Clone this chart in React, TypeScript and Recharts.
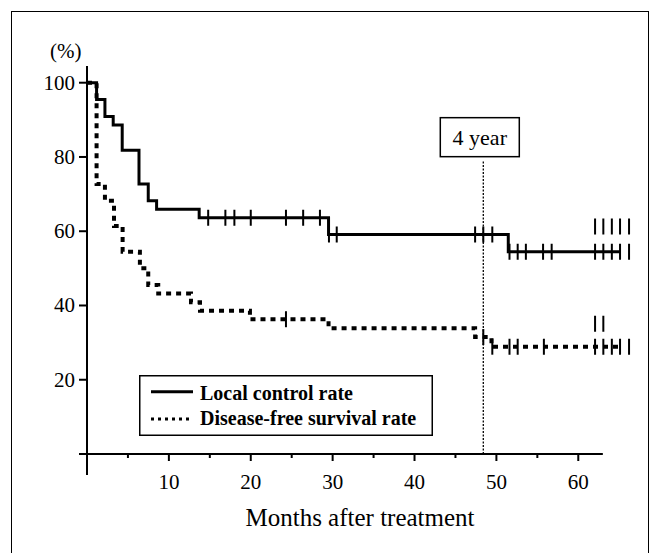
import React from 'react';
import {
  ComposedChart,
  Line,
  Scatter,
  XAxis,
  YAxis,
  ReferenceLine,
  ReferenceDot,
  Legend,
} from 'recharts';

const FONT = '"Liberation Serif", "Times New Roman", Times, serif';

// Kaplan-Meier step points (months, %)
const localSteps = [
  { t: 0, v: 100 },
  { t: 1.17, v: 95.45 },
  { t: 2.19, v: 90.9 },
  { t: 3.2, v: 88.6 },
  { t: 4.3, v: 81.8 },
  { t: 6.35, v: 72.7 },
  { t: 7.48, v: 68.2 },
  { t: 8.5, v: 65.9 },
  { t: 13.7, v: 63.6 },
  { t: 29.5, v: 59.1 },
  { t: 51.45, v: 54.5 },
  { t: 65.1, v: 54.5 },
];

const dfsSteps = [
  { t: 0, v: 100 },
  { t: 1.17, v: 72.7 },
  { t: 2.19, v: 68.2 },
  { t: 3.3, v: 61.4 },
  { t: 4.35, v: 54.5 },
  { t: 6.46, v: 50.0 },
  { t: 7.48, v: 45.5 },
  { t: 8.7, v: 43.2 },
  { t: 12.7, v: 40.9 },
  { t: 13.8, v: 38.6 },
  { t: 19.9, v: 36.3 },
  { t: 29.5, v: 33.9 },
  { t: 47.4, v: 31.5 },
  { t: 49.4, v: 28.9 },
  { t: 65.1, v: 28.9 },
];

// censoring marks
const localCensor = [
  { t: 14.8, v: 63.6 },
  { t: 16.9, v: 63.6 },
  { t: 18.0, v: 63.6 },
  { t: 20.0, v: 63.6 },
  { t: 24.3, v: 63.6 },
  { t: 26.4, v: 63.6 },
  { t: 28.45, v: 63.6 },
  { t: 29.55, v: 59.1 },
  { t: 30.5, v: 59.1 },
  { t: 47.4, v: 59.1 },
  { t: 48.4, v: 59.1 },
  { t: 49.5, v: 59.1 },
  { t: 51.6, v: 54.5 },
  { t: 52.6, v: 54.5 },
  { t: 53.6, v: 54.5 },
  { t: 55.7, v: 54.5 },
  { t: 56.75, v: 54.5 },
  { t: 62.05, v: 54.5 },
  { t: 63.06, v: 54.5 },
  { t: 64.1, v: 54.5 },
  { t: 65.1, v: 54.5 },
  { t: 66.2, v: 54.5 },
];
const localCensorStacked = [
  { t: 62.05, v: 61.3 },
  { t: 63.06, v: 61.3 },
  { t: 64.1, v: 61.3 },
  { t: 65.1, v: 61.3 },
  { t: 66.2, v: 61.3 },
];
const dfsCensor = [
  { t: 24.3, v: 36.3 },
  { t: 48.4, v: 31.5 },
  { t: 49.5, v: 28.9 },
  { t: 51.6, v: 28.9 },
  { t: 52.6, v: 28.9 },
  { t: 55.8, v: 28.9 },
  { t: 62.05, v: 28.9 },
  { t: 63.06, v: 28.9 },
  { t: 64.1, v: 28.9 },
  { t: 65.1, v: 28.9 },
  { t: 66.2, v: 28.9 },
];
const dfsCensorStacked = [
  { t: 62.05, v: 35.1 },
  { t: 63.06, v: 35.1 },
];

const xTicks = [5, 10, 15, 20, 25, 30, 35, 40, 45, 50, 55, 60];
const yTicks = [0, 20, 40, 60, 80, 100];
const xAxisEnd = 63;
const fourYear = 48.4;
const fourYearLabel = '4 year';
const legendLabels = ['Local control rate', 'Disease-free survival rate'];
const xTitle = 'Months after treatment';
const yTitle = '(%)';

const textStyle = { fontFamily: FONT };

const XTick = (props: any) => {
  const { x, y, payload } = props;
  const major = payload.value % 10 === 0;
  return (
    <g>
      <line x1={x} x2={x} y1={y} y2={y + (major ? 7 : 4)} stroke="#000" strokeWidth={2} />
      {major && (
        <text x={x} y={y + 35} textAnchor="middle" fontFamily={FONT} style={textStyle} fontSize={21} fill="#000">
          {payload.value}
        </text>
      )}
    </g>
  );
};

const YTick = (props: any) => {
  const { x, y, payload } = props;
  return (
    <g>
      <line x1={x - 8} x2={x} y1={y} y2={y} stroke="#000" strokeWidth={2} />
      {payload.value !== 0 && (
        <text x={x - 12} y={y + 7} textAnchor="end" fontFamily={FONT} style={textStyle} fontSize={21} fill="#000">
          {payload.value}
        </text>
      )}
    </g>
  );
};

const CensorMark = (p: any) => (
  <line x1={p.cx} x2={p.cx} y1={p.cy - 8} y2={p.cy + 8} stroke="#000" strokeWidth={2} />
);

const FourYearBox = (p: any) => (
  <g>
    <rect x={p.cx - 43} y={p.cy - 43} width={79} height={39} fill="#fff" stroke="#000" strokeWidth={1.5} />
    <text x={p.cx - 3.5} y={p.cy - 16} textAnchor="middle" fontFamily={FONT} style={textStyle} fontSize={22} fill="#000">
      {fourYearLabel}
    </text>
  </g>
);

const LegendBox = () => (
  <svg width={294} height={62} style={{ display: 'block' }}>
    <rect x={0.75} y={0.75} width={292.5} height={59.5} fill="#fff" stroke="#000" strokeWidth={1.5} />
    <line x1={12} x2={54} y1={16.7} y2={16.7} stroke="#000" strokeWidth={3} />
    <line x1={12} x2={54} y1={44} y2={44} stroke="#000" strokeWidth={3} strokeDasharray="3 4" />
    <text x={61} y={25} fontFamily={FONT} style={textStyle} fontWeight="bold" fontSize={20} fill="#000">
      {legendLabels[0]}
    </text>
    <text x={61} y={50} fontFamily={FONT} style={textStyle} fontWeight="bold" fontSize={20} fill="#000">
      {legendLabels[1]}
    </text>
  </svg>
);

export default function App() {
  return (
    <div style={{ position: 'absolute', left: 0, top: 0, width: 659, height: 553, background: '#fff', overflow: 'hidden' }}>
      <div
        style={{
          position: 'absolute',
          left: 11,
          top: 11,
          width: 638,
          height: 600,
          border: '1.5px solid #000',
          boxSizing: 'border-box',
        }}
      />
      <ComposedChart
        width={659}
        height={553}
        margin={{ top: 66, right: 27.5, bottom: 98, left: 86 }}
        style={{ position: 'absolute', left: 0, top: 0 }}
      >
        <XAxis
          type="number"
          dataKey="t"
          domain={[0, 66.5]}
          ticks={xTicks}
          interval={0}
          axisLine={false}
          tickLine={false}
          tickSize={0}
          tickMargin={0}
          height={1}
          tick={<XTick />}
          allowDataOverflow
          label={(props: any) => {
            const vb = props.viewBox;
            return (
              <text x={vb.x + 273} y={vb.y + 72} textAnchor="middle" fontFamily={FONT} style={textStyle} fontSize={25} fill="#000">
                {xTitle}
              </text>
            );
          }}
        />
        <YAxis
          type="number"
          dataKey="v"
          domain={[0, 104.5]}
          ticks={yTicks}
          interval={0}
          axisLine={false}
          tickLine={false}
          tickSize={0}
          tickMargin={0}
          width={1}
          tick={<YTick />}
          allowDataOverflow
          label={(props: any) => {
            const vb = props.viewBox;
            return (
              <text x={vb.x + vb.width - 37} y={vb.y - 8} textAnchor="start" fontFamily={FONT} style={textStyle} fontSize={21} fill="#000">
                {yTitle}
              </text>
            );
          }}
        />
        <Legend
          layout="vertical"
          align="center"
          verticalAlign="middle"
          wrapperStyle={{ left: 139, top: 375, width: 294, height: 62 }}
          content={() => <LegendBox />}
        />
        <ReferenceLine
          segment={[{ x: 0, y: -5.65 }, { x: 0, y: 104.5 }]}
          stroke="#000"
          strokeWidth={2}
          ifOverflow="visible"
        />
        <ReferenceLine
          segment={[{ x: 0, y: 0 }, { x: xAxisEnd, y: 0 }]}
          stroke="#000"
          strokeWidth={2}
          ifOverflow="visible"
        />
        <ReferenceLine
          segment={[{ x: fourYear, y: 0 }, { x: fourYear, y: 79 }]}
          stroke="#000"
          strokeWidth={1.3}
          strokeDasharray="2 1.5"
          ifOverflow="visible"
        />
        <ReferenceDot x={fourYear} y={79} ifOverflow="visible" shape={FourYearBox} />
        <Line
          data={dfsSteps}
          dataKey="v"
          type="stepAfter"
          stroke="#000"
          strokeWidth={4}
          strokeDasharray="5 5"
          dot={false}
          activeDot={false}
          isAnimationActive={false}
          legendType="none"
        />
        <Line
          data={localSteps}
          dataKey="v"
          type="stepAfter"
          stroke="#000"
          strokeWidth={3}
          dot={false}
          activeDot={false}
          isAnimationActive={false}
          legendType="none"
        />
        <Scatter data={localCensor} dataKey="v" shape={CensorMark} isAnimationActive={false} legendType="none" />
        <Scatter data={localCensorStacked} dataKey="v" shape={CensorMark} isAnimationActive={false} legendType="none" />
        <Scatter data={dfsCensor} dataKey="v" shape={CensorMark} isAnimationActive={false} legendType="none" />
        <Scatter data={dfsCensorStacked} dataKey="v" shape={CensorMark} isAnimationActive={false} legendType="none" />
      </ComposedChart>
    </div>
  );
}
